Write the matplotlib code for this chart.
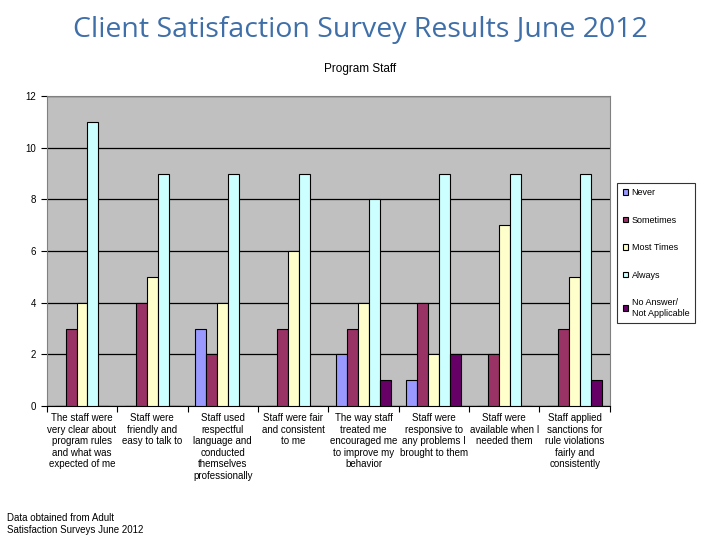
import matplotlib
matplotlib.use("Agg")
import matplotlib.pyplot as plt
import numpy as np

categorias = [
    "The staff were\nvery clear about\nprogram rules\nand what was\nexpected of me",
    "Staff were\nfriendly and\neasy to talk to",
    "Staff used\nrespectful\nlanguage and\nconducted\nthemselves\nprofessionally",
    "Staff were fair\nand consistent\nto me",
    "The way staff\ntreated me\nencouraged me\nto improve my\nbehavior",
    "Staff were\nresponsive to\nany problems I\nbrought to them",
    "Staff were\navailable when I\nneeded them",
    "Staff applied\nsanctions for\nrule violations\nfairly and\nconsistently",
]
series = ["Never", "Sometimes", "Most Times", "Always", "No Answer/\nNot Applicable"]
never = [0, 0, 3, 0, 2, 1, 0, 0]
sometimes = [3, 4, 2, 3, 3, 4, 2, 3]
most_times = [4, 5, 4, 6, 4, 2, 7, 5]
always = [11, 9, 9, 9, 8, 9, 9, 9]
no_answer = [0, 0, 0, 0, 1, 2, 0, 1]
colores = ["#9999FF", "#993366", "#FFFFCC", "#CCFFFF", "#660066"]

plt.rcParams['font.family'] = ['Liberation Sans', 'DejaVu Sans']
fig = plt.figure(figsize=(7.2, 5.4), dpi=100)
ax = fig.add_axes([0.065, 0.248, 0.782, 0.574])

x = np.arange(len(categorias))
ancho = 0.156
valores = [never, sometimes, most_times, always, no_answer]
for i, (nombre, vals, c) in enumerate(zip(series, valores, colores)):
    desp = (i - 2) * ancho
    ax.bar(x + desp, vals, ancho, color=c, edgecolor="black", linewidth=0.8,
           label=nombre, zorder=3)

ax.set_facecolor("#C0C0C0")
ax.set_xlim(-0.5, len(categorias) - 0.5)
ax.set_ylim(0, 12)
ax.set_yticks(range(0, 13, 2))
ax.yaxis.grid(True, color="black", linewidth=0.9, zorder=1)
ax.set_xticks(np.arange(-0.5, len(categorias), 1.0), minor=False)
ax.set_xticklabels([])
ax.set_xticks(x, minor=True)
ax.set_xticklabels(categorias, minor=True, fontsize=7)
ax.tick_params(axis="x", which="minor", length=0, pad=5)
ax.tick_params(axis="x", which="major", length=4, direction="out")
ax.tick_params(axis="y", labelsize=7, length=4)
for s in ["top", "right"]:
    ax.spines[s].set_color("#808080")
ax.spines["left"].set_color("#808080")
ax.spines["bottom"].set_color("black")

leg = ax.legend(loc="upper left", bbox_to_anchor=(1.005, 0.735), fontsize=6.5,
                frameon=True, fancybox=False, edgecolor="black",
                handlelength=0.6, handleheight=0.6, handletextpad=0.4,
                labelspacing=2.05, borderpad=0.6)
leg.get_frame().set_linewidth(0.8)

fig.text(0.5, 0.945, "Client Satisfaction Survey Results June 2012",
         ha="center", va="center", fontsize=20.5, color="#3F6FA8",
         weight="medium", family=["Open Sans", "DejaVu Sans"])
fig.text(0.5, 0.873, "Program Staff", ha="center", va="center", fontsize=8.5)
fig.text(0.01, 0.03, "Data obtained from Adult\nSatisfaction Surveys June 2012",
         ha="left", va="center", fontsize=7)

fig.savefig("out.png", dpi=100)
